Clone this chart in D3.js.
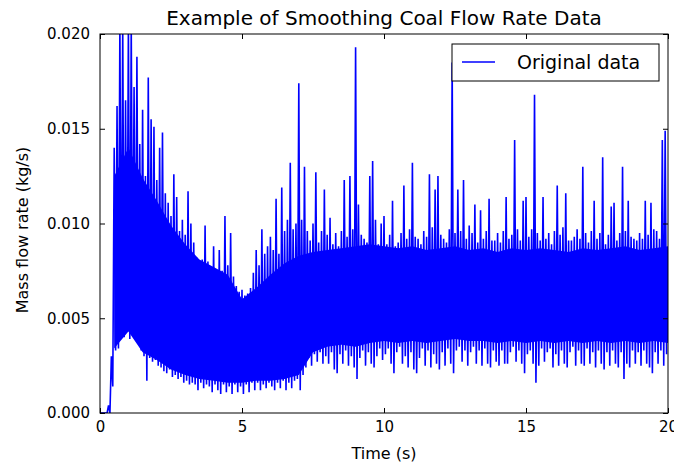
<!DOCTYPE html>
<html>
<head>
<meta charset="utf-8">
<script src="https://cdn.jsdelivr.net/npm/d3@7"></script>
<style>
  body { margin: 0; background: #fff; }
  text { font-family: "DejaVu Sans", sans-serif; fill: #000; }
</style>
</head>
<body>
<div id="chart"></div>
<script>
// samples, one max/min pair per 0.1 s bin, in 1e-3 kg/s
var binWidth = 0.1;
var hiValues = [
  0, 0, 0, 0.4, 3.0, 14.0, 16.2, 20.5, 20.5, 16.5,
  20.5, 20.5, 17.2, 18.8, 14.2, 16.0, 12.5, 17.7, 15.5, 15.1,
  12.3, 14.0, 14.8, 11.6, 11.1, 10.4, 12.6, 11.4, 9.6, 10.2,
  9.4, 11.7, 10.0, 9.0, 8.2, 7.6, 8.1, 9.9, 8.0, 7.4,
  8.8, 7.3, 8.6, 7.5, 10.4, 7.8, 9.5, 7.2, 6.7, 6.4,
  6.5, 6.2, 6.3, 6.6, 7.4, 8.6, 7.8, 9.7, 8.4, 8.8,
  9.3, 8.6, 11.3, 8.4, 11.9, 9.6, 10.2, 13.2, 9.7, 10.0,
  17.4, 10.2, 13.0, 9.6, 9.1, 10.0, 12.7, 9.0, 9.6, 11.8,
  9.4, 10.3, 8.9, 9.5, 8.8, 9.6, 12.3, 9.3, 12.5, 9.7,
  19.3, 11.0, 9.4, 9.2, 9.0, 12.5, 13.3, 10.2, 8.9, 10.0,
  10.4, 8.9, 9.4, 11.2, 8.8, 9.0, 9.5, 12.0, 9.2, 9.7,
  13.2, 9.3, 9.2, 8.9, 9.6, 9.3, 12.6, 9.8, 11.8, 12.5,
  9.4, 9.2, 9.0, 9.7, 18.5, 9.5, 11.8, 9.6, 12.3, 9.2,
  9.9, 9.5, 11.0, 9.0, 10.7, 9.2, 9.6, 11.3, 9.1, 9.1,
  9.5, 9.0, 9.6, 11.4, 9.2, 9.4, 14.4, 9.7, 9.1, 11.2,
  11.4, 9.3, 9.7, 16.8, 9.5, 9.1, 11.4, 9.2, 9.5, 8.9,
  9.6, 12.0, 9.4, 9.8, 11.6, 9.1, 9.1, 9.3, 9.7, 9.2,
  13.0, 9.5, 9.0, 9.6, 11.2, 9.2, 9.5, 13.5, 8.9, 9.4,
  10.9, 11.1, 9.1, 9.5, 13.0, 9.6, 11.2, 9.3, 9.2, 9.1,
  9.5, 9.2, 11.2, 9.4, 11.1, 9.7, 9.6, 9.2, 14.4, 14.9
];
var loValues = [
  0, 0, 0, 0, 1.4, 3.3, 3.4, 4.4, 4.0, 4.3,
  3.9, 4.5, 4.0, 3.8, 3.3, 3.0, 1.7, 2.9, 2.7, 2.8,
  2.5, 2.4, 2.2, 2.1, 2.3, 1.9, 2.0, 1.8, 1.9, 1.6,
  1.7, 1.5, 1.6, 1.5, 1.2, 1.6, 1.3, 1.5, 1.4, 1.1,
  1.5, 1.2, 1.0, 1.5, 1.1, 1.4, 1.0, 1.5, 1.1, 1.4,
  1.0, 1.5, 1.1, 1.6, 1.2, 1.6, 1.2, 1.5, 1.3, 1.6,
  1.4, 1.2, 1.6, 1.3, 1.7, 1.2, 1.6, 1.3, 1.7, 1.8,
  1.2, 2.0, 2.4, 2.9, 2.5, 3.1, 2.7, 3.2, 2.6, 3.0,
  2.6, 3.2, 2.3, 2.1, 3.1, 2.6, 3.3, 2.5, 3.0, 2.4,
  1.8, 2.9, 3.3, 2.5, 3.2, 2.6, 2.4, 3.0, 3.4, 2.8,
  3.1, 3.4, 2.6, 2.1, 3.2, 3.5, 2.6, 3.0, 2.4, 3.2,
  2.3, 2.1, 2.9, 3.4, 2.5, 3.3, 2.4, 3.1, 2.6, 2.3,
  3.2, 2.5, 3.4, 2.6, 2.1, 3.3, 3.5, 2.7, 3.3, 2.5,
  3.2, 3.5, 2.6, 3.3, 2.5, 3.4, 2.6, 2.4, 3.3, 2.7,
  2.5, 3.3, 2.6, 2.6, 3.2, 3.5, 2.7, 3.3, 2.6, 2.1,
  3.1, 3.3, 2.6, 1.6, 2.5, 3.4, 2.7, 3.2, 3.4, 2.4,
  3.1, 2.5, 3.3, 2.6, 2.4, 3.2, 3.5, 2.5, 3.3, 2.6,
  2.5, 3.4, 2.6, 3.2, 2.4, 3.3, 2.6, 2.3, 3.2, 2.5,
  3.3, 2.6, 2.4, 3.2, 1.8, 2.6, 2.4, 3.3, 2.6, 3.2,
  2.5, 3.3, 2.6, 2.4, 2.1, 3.2, 2.6, 3.3, 2.5, 3.1
];
// edges of the solid core where samples overlap completely, every 0.5 s from 0.5 s
var bandStep = 0.5, bandStart = 0.5;
var bandTop = [
  12.5, 14.0, 12.4, 11.2, 9.9, 8.9, 8.1, 7.7, 7.3, 6.0,
  6.6, 7.3, 7.9, 8.3, 8.5, 8.6, 8.7, 8.8, 8.9, 8.8,
  8.7, 8.8, 8.6, 8.7, 8.8, 8.6, 8.7, 8.5, 8.7, 8.6,
  8.7, 8.6, 8.5, 8.7, 8.6, 8.7, 8.8, 8.6, 8.7, 8.8
];
var bandBottom = [
  3.4, 4.3, 3.2, 2.8, 2.3, 2.0, 1.8, 1.7, 1.6, 1.6,
  1.7, 1.7, 1.8, 2.0, 3.2, 3.5, 3.6, 3.5, 3.7, 3.8,
  3.7, 3.8, 3.7, 3.8, 3.9, 3.8, 3.8, 3.7, 3.8, 3.7,
  3.8, 3.7, 3.8, 3.7, 3.8, 3.7, 3.8, 3.7, 3.8, 3.7
];
var xTicks = [0, 5, 10, 15, 20];
var yTicks = [0, 0.005, 0.010, 0.015, 0.020];
var chartTitle = "Example of Smoothing Coal Flow Rate Data",
    xLabel = "Time (s)",
    yLabel = "Mass flow rate (kg/s)",
    seriesLabel = "Original data";

var width = 674,
    height = 463,
    margin = {top: 34, right: 6, bottom: 50, left: 100},
    plotW = width - margin.left - margin.right,
    plotH = height - margin.top - margin.bottom;

// max then min of every bin, in time order
var points = [];
hiValues.forEach(function(h, i) {
  points.push([i * binWidth, h / 1000]);
  points.push([i * binWidth + binWidth / 2, loValues[i] / 1000]);
});

var band = bandTop.map(function(t, i) {
  return {t: bandStart + i * bandStep, top: t / 1000, bottom: bandBottom[i] / 1000};
});

var x = d3.scaleLinear().domain([0, 20]).range([0, plotW]);
var y = d3.scaleLinear().domain([0, 0.02]).range([plotH, 0]);

var svg = d3.select("#chart").append("svg")
    .attr("width", width)
    .attr("height", height);

var g = svg.append("g")
    .attr("transform", "translate(" + margin.left + "," + margin.top + ")");

g.append("clipPath")
    .attr("id", "plotClip")
  .append("rect")
    .attr("width", plotW)
    .attr("height", plotH);

var area = d3.area()
    .x(function(d) { return x(d.t); })
    .y0(function(d) { return y(d.bottom); })
    .y1(function(d) { return y(d.top); });

var line = d3.line()
    .x(function(d) { return x(d[0]); })
    .y(function(d) { return y(d[1]); });

var plot = g.append("g")
    .attr("clip-path", "url(#plotClip)");

plot.append("path")
    .datum(band)
    .attr("fill", "#0000ff")
    .attr("d", area);

plot.append("path")
    .datum(points)
    .attr("fill", "none")
    .attr("stroke", "#0000ff")
    .attr("stroke-width", 1.6)
    .attr("d", line);

// ticks point inward on all four sides, like the classic matplotlib look
var xAxis = g.append("g")
    .attr("transform", "translate(0," + plotH + ")")
    .call(d3.axisBottom(x).tickValues(xTicks).tickSize(-5).tickPadding(8).tickFormat(d3.format("d")));
var xTop = g.append("g")
    .call(d3.axisTop(x).tickValues(xTicks).tickSize(-5).tickFormat(""));
var yAxis = g.append("g")
    .call(d3.axisLeft(y).tickValues(yTicks).tickSize(-5).tickPadding(10).tickFormat(d3.format(".3f")));
var yRight = g.append("g")
    .attr("transform", "translate(" + plotW + ",0)")
    .call(d3.axisRight(y).tickValues(yTicks).tickSize(-5).tickFormat(""));

[xAxis, xTop, yAxis, yRight].forEach(function(a) {
  a.select(".domain").remove();
  a.selectAll(".tick line").attr("stroke", "#000");
  a.selectAll(".tick text")
      .style("font-family", "DejaVu Sans")
      .style("font-size", "15px")
      .attr("fill", "#000");
});

g.append("rect")
    .attr("width", plotW)
    .attr("height", plotH)
    .attr("fill", "none")
    .attr("stroke", "#000")
    .attr("stroke-width", 1);

svg.append("text")
    .attr("x", margin.left + plotW / 2)
    .attr("y", 25)
    .attr("text-anchor", "middle")
    .style("font-size", "20px")
    .text(chartTitle);

svg.append("text")
    .attr("x", margin.left + plotW / 2)
    .attr("y", 459)
    .attr("text-anchor", "middle")
    .style("font-size", "16px")
    .text(xLabel);

svg.append("text")
    .attr("transform", "translate(28," + 230 + ") rotate(-90)")
    .attr("text-anchor", "middle")
    .style("font-size", "16px")
    .text(yLabel);

// legend
var legend = svg.append("g")
    .attr("transform", "translate(452,44)");
legend.append("rect")
    .attr("width", 207)
    .attr("height", 37)
    .attr("fill", "#fff")
    .attr("stroke", "#000");
legend.append("line")
    .attr("x1", 10).attr("x2", 43)
    .attr("y1", 18).attr("y2", 18)
    .attr("stroke", "#0000ff")
    .attr("stroke-width", 1.3);
legend.append("text")
    .attr("x", 65)
    .attr("y", 25)
    .style("font-size", "19px")
    .text(seriesLabel);
</script>
</body>
</html>
